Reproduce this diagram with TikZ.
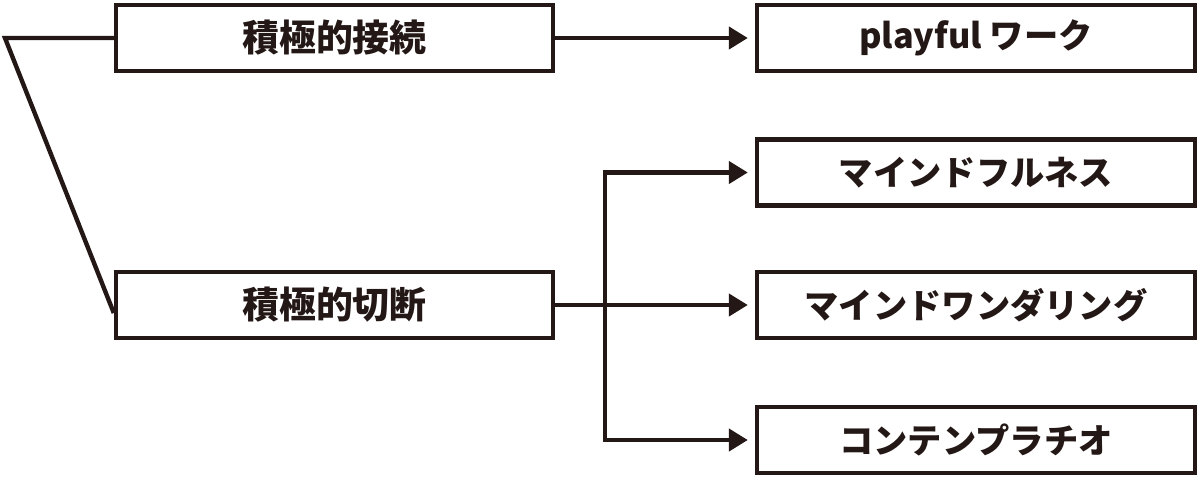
\documentclass[tikz,border=0pt]{standalone}
\usepackage{fontspec}
\setmainfont{Noto Sans CJK JP}
\usetikzlibrary{positioning, arrows.meta}
\definecolor{ink}{HTML}{231815}

\begin{document}
\begin{tikzpicture}[
  mode/.style={rectangle, draw=ink, text=ink, line width=2.5pt,
               minimum width=8.74cm, minimum height=1.32cm,
               inner sep=0pt, font=\fontsize{21}{24}\selectfont\bfseries},
  practice/.style={mode, minimum width=8.76cm,
               font=\fontsize{19.5}{23}\selectfont\bfseries},
  arrow/.style={-{Triangle[length=0.38cm, width=0.44cm]}, line width=2.5pt,
                draw=ink, shorten >=0.14cm},
  link/.style={line width=2.5pt, draw=ink, line join=miter}
]
\useasboundingbox (0,0) rectangle (24,-9.6);

% left column - modes
\node[mode] (conn) at (6.69,-0.76) {積極的接続};
\node[mode] (cut)  at (6.69,-6.1)  {積極的切断};

% right column - practices
\node[practice] (play)   at (19.52,-0.76) {playful ワーク};
\node[practice] (mind)   at (19.52,-3.45) {マインドフルネス};
\node[practice] (wander) at (19.52,-6.1)  {マインドワンダリング};
\node[practice] (contem) at (19.52,-8.8)  {コンテンプラチオ};

% bracket joining the two modes
\coordinate (apex) at (0.1,-0.76);
\draw[link] (conn.west) -- (apex) -- ([yshift=-0.16cm]cut.west);

% arrows
\draw[arrow] (conn) -- (play);
\coordinate (fork) at (12.1,-6.1);
\draw[link] (cut) -- (fork);
\draw[arrow] (fork) |- (mind);
\draw[arrow] (fork) -- (wander);
\draw[arrow] (fork) |- (contem);

\end{tikzpicture}
\end{document}
